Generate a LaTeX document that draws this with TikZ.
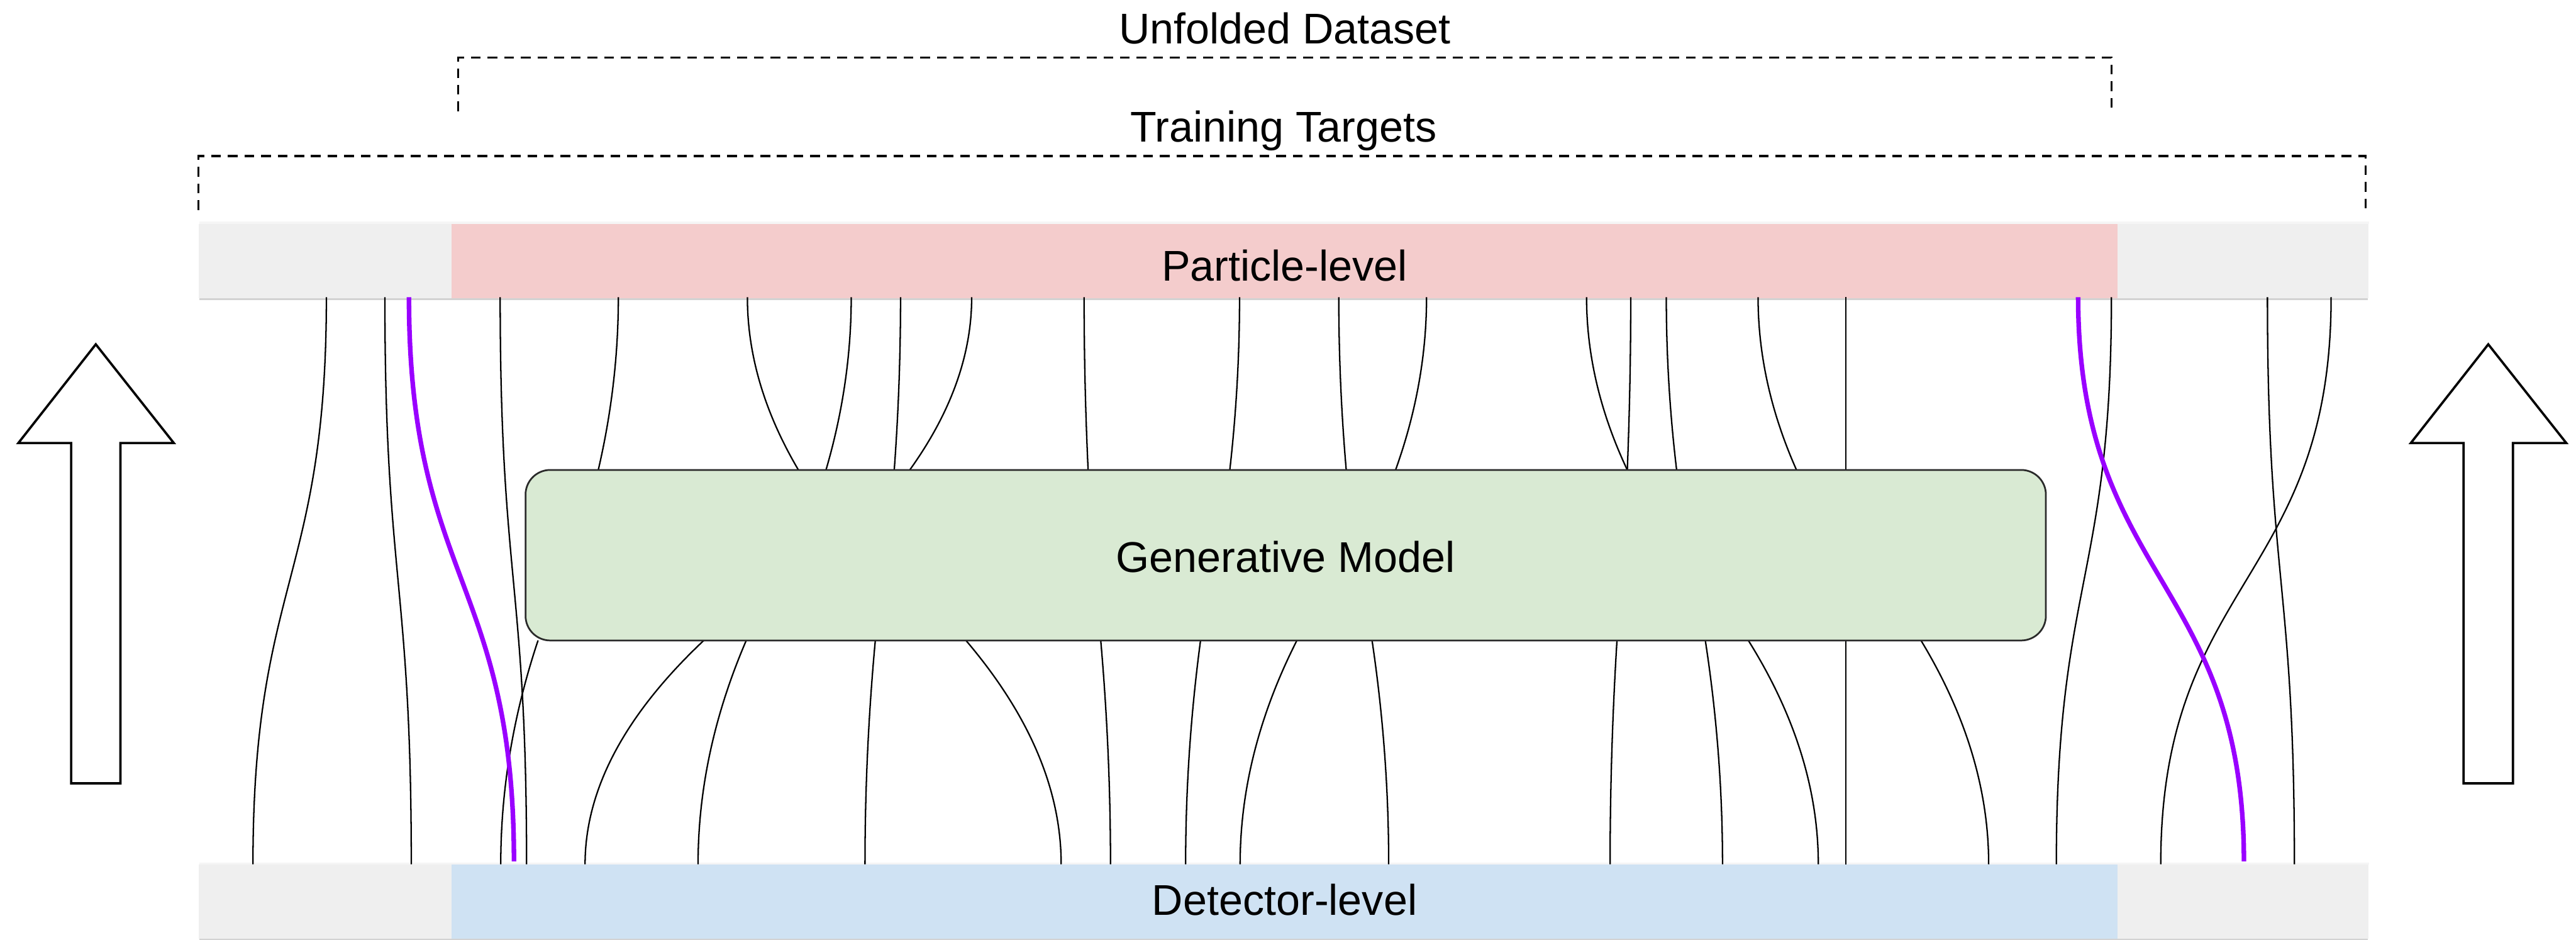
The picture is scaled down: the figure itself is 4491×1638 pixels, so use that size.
\documentclass[tikz,border=0pt]{standalone}
\usepackage{fontspec}
\setmainfont{Liberation Sans}
\definecolor{pinkbar}{HTML}{F4CCCC}
\definecolor{bluebar}{HTML}{CFE2F3}
\definecolor{greenbox}{HTML}{D9EAD3}
\definecolor{graybar}{HTML}{EFEFEF}
\definecolor{edgelight}{HTML}{F5F5F5}
\definecolor{edgedark}{HTML}{D2D2D2}
\definecolor{violetline}{HTML}{9900FF}
\definecolor{boxline}{HTML}{2A2A2A}
\begin{document}
\begin{tikzpicture}[x=0.01cm, y=-0.01cm,
  every node/.style={font=\fontsize{21.3}{25}\selectfont, inner sep=0pt, outer sep=0pt},
  wire/.style={line width=0.025cm, black},
  hilite/.style={line width=0.08cm, violetline},
  bracket/.style={line width=0.035cm, dash pattern=on 0.17cm off 0.12cm},
  bigarrow/.style={draw, line width=0.04cm, fill=white, line join=miter},
  graystrip/.style={fill=graybar, minimum width=37.8cm, minimum height=1.3cm},
  colorstrip/.style={minimum width=29.03cm, minimum height=1.3cm, text depth=0pt}
]
\useasboundingbox (0,0) rectangle (4491,1638);

% --- level bars ---
\node[graystrip] (pgray) at (2238,455) {};
\node[colorstrip, fill=pinkbar, text height=0.68cm] (pbar) at (2239.5,455) {Particle-level};
\fill[edgelight] (348,386) rectangle (4130,390);
\fill[edgedark] (348,520) rectangle (4128,523);

\node[graystrip] (dgray) at (2238,1571) {};
\node[colorstrip, fill=bluebar, text height=0.48cm] (dbar) at (2239.5,1571) {Detector-level};
\fill[edgelight] (348,1503) rectangle (4130,1506);
\fill[edgedark] (348,1636) rectangle (4128,1638);

% --- brackets ---
\draw[bracket] (799,194) -- (799,100) -- (3681,100) -- (3681,194);
\node[anchor=base] (unf) at (2240,76) {Unfolded Dataset};
\draw[bracket] (346,366) -- (346,272) -- (4124,272) -- (4124,366);
\node[anchor=base] (trt) at (2238,247) {Training Targets};

% --- block arrows ---
\draw[bigarrow] (124,1365) -- (124,772) -- (32,772) -- (167,600) -- (303,772) -- (210,772) -- (210,1365) -- cycle;
\draw[bigarrow] (4295,1365) -- (4295,772) -- (4203,772) -- (4338,600) -- (4474,772) -- (4381,772) -- (4381,1365) -- cycle;

% --- particle level -> model ---
\foreach \xa/\xb [count=\i] in {1078/1043,1303/1392,1484/1440,1570/1559,1694/1586,1890/1897,2161/2144,2334/2347,2487/2433,2766/2837,2843/2837,2905/2923,3065/3132,3218/3218} {
  \pgfmathsetmacro\xc{(2*\xa+\xb)/3}
  \coordinate (pt\i) at (\xa,518);
  \coordinate (mt\i) at (\xb,819);
  \draw[wire] (pt\i) .. controls (\xa,618.3) and (\xc,718.7) .. (mt\i);
}

% --- detector level -> model ---
\foreach \xa/\xb [count=\i] in {873/938,1020/1227,1217/1301,1508/1526,1850/1684,1936/1919,2067/2093,2162/2261,2421/2392,2807/2819,3003/2973,3170/3048,3218/3218,3467/3349} {
  \pgfmathsetmacro\xc{(2*\xa+\xb)/3}
  \coordinate (dt\i) at (\xa,1506);
  \coordinate (mb\i) at (\xb,1116);
  \draw[wire] (dt\i) .. controls (\xa,1376) and (\xc,1246) .. (mb\i);
}

% --- long links outside the model ---
\foreach \xa/\xb [count=\i] in {569/441,671/717,872/918,3681/3585,3953/4000,4064/3767} {
  \coordinate (lp\i) at (\xa,518);
  \coordinate (ld\i) at (\xb,1506);
  \draw[wire] (lp\i) .. controls (\xa,1012) and (\xb,1012) .. (ld\i);
}

% --- generative model ---
\node[draw=boxline, line width=0.03cm, fill=greenbox, rounded corners=0.43cm,
      minimum width=26.49cm, minimum height=2.97cm, text height=0.59cm, text depth=0pt]
      (gm) at (2241.5,967.5) {Generative Model};

% --- highlighted links ---
\foreach \xa/\xb [count=\i] in {713/896,3623/3912} {
  \coordinate (hp\i) at (\xa,518);
  \coordinate (hd\i) at (\xb,1501);
  \draw[hilite] (hp\i) .. controls (\xa,1010) and (\xb,1010) .. (hd\i);
}
\end{tikzpicture}
\end{document}
